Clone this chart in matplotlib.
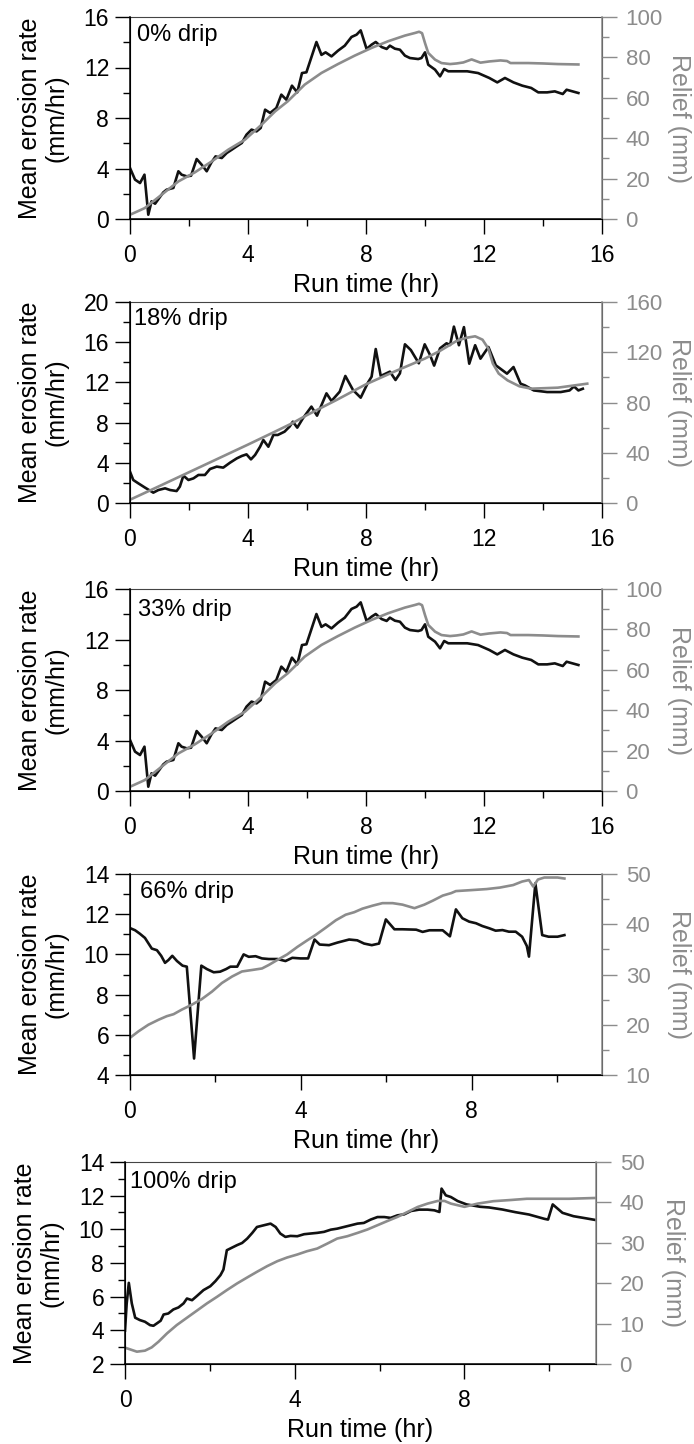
import numpy as np
import matplotlib
matplotlib.use("Agg")
import matplotlib.pyplot as plt

plt.rcParams["font.family"] = ["Liberation Sans", "DejaVu Sans"]

GRAY = "#8c8c8c"

# ---- data ----
# 0% drip
t_0 = [0, 0.17, 0.34, 0.49, 0.62, 0.73, 0.85, 1.13, 1.24, 1.47, 1.64, 1.75, 1.92, 2.07, 2.26, 2.43,
       2.6, 2.75, 2.9, 3.11, 3.28, 3.45, 3.62, 3.79, 3.95, 4.12, 4.29, 4.43, 4.58, 4.75, 4.96, 5.13,
       5.3, 5.49, 5.67, 5.83, 5.98, 6.32, 6.49, 6.63, 6.83, 7.05, 7.28, 7.51, 7.68, 7.82, 8.02, 8.19,
       8.33, 8.53, 8.7, 8.81, 8.98, 9.15, 9.32, 9.49, 9.77, 9.88, 10.0, 10.11, 10.34, 10.51, 10.65,
       10.79, 11.07, 11.43, 11.8, 12.18, 12.45, 12.71, 13.0, 13.3, 13.6, 13.84, 14.14, 14.4, 14.67,
       14.8, 15.2]
erosion_0 = [4.04, 3.12, 2.85, 3.51, 0.34, 1.4, 1.21, 2.11, 2.32, 2.46, 3.78, 3.51, 3.38, 3.43, 4.75,
             4.3, 3.78, 4.44, 4.96, 4.83, 5.23, 5.49, 5.76, 6.02, 6.68, 7.08, 6.94, 7.21, 8.66, 8.4,
             8.79, 9.85, 9.45, 10.56, 10.03, 11.56, 11.62, 14.02, 13.0, 13.2, 12.88, 13.33, 13.73,
             14.42, 14.6, 14.94, 13.47, 13.81, 14.02, 13.62, 13.47, 13.73, 13.49, 13.41, 12.94, 12.75,
             12.67, 12.75, 13.2, 12.22, 11.83, 11.3, 11.88, 11.7, 11.7, 11.7, 11.56, 11.17, 10.82,
             11.17, 10.82, 10.56, 10.38, 10.03, 10.03, 10.11, 9.9, 10.24, 9.98]
tr_0 = [0, 0.5, 1.07, 1.64, 2.2, 2.77, 3.33, 3.9, 4.46, 4.92, 5.35, 5.92, 6.49, 7.05, 7.62, 8.19, 8.75,
        9.32, 9.66, 9.8, 9.9, 10.0, 10.11, 10.34, 10.56, 10.85, 11.07, 11.3, 11.58, 11.88, 12.18,
        12.56, 12.78, 12.9, 13.5, 14.0, 14.5, 15.2]
relief_0 = [2.1, 5.4, 12.0, 18.6, 23.1, 28.5, 34.3, 39.3, 46.7, 53.3, 58.3, 66.5, 72.3, 76.7, 80.9,
            84.7, 88.0, 90.8, 92.1, 92.7, 92.0, 87.1, 82.2, 78.9, 77.2, 76.7, 77.0, 77.5, 79.0, 77.4,
            78.0, 78.5, 78.2, 77.2, 77.2, 77.0, 76.7, 76.5]

# 18% drip
t_18 = [0, 0.11, 0.28, 0.51, 0.79, 0.96, 1.19, 1.36, 1.58, 1.69, 1.81, 1.98, 2.15, 2.32, 2.54, 2.71,
        2.94, 3.16, 3.39, 3.62, 3.79, 3.95, 4.1, 4.24, 4.41, 4.52, 4.69, 4.86, 5.01, 5.24, 5.41, 5.52,
        5.67, 5.86, 6.15, 6.34, 6.66, 6.83, 7.11, 7.3, 7.56, 7.82, 8.07, 8.19, 8.33, 8.5, 8.81, 9.0,
        9.15, 9.32, 9.52, 9.79, 9.99, 10.17, 10.31, 10.51, 10.73, 10.85, 10.98, 11.15, 11.32, 11.5,
        11.7, 11.88, 12.15, 12.4, 12.63, 12.78, 13.0, 13.24, 13.39, 13.69, 14.14, 14.6, 14.9, 15.05,
        15.2, 15.35]
erosion_18 = [3.12, 2.29, 1.96, 1.53, 1.03, 1.29, 1.46, 1.29, 1.19, 1.63, 2.72, 2.29, 2.45, 2.79, 2.79,
              3.38, 3.62, 3.52, 4.01, 4.44, 4.68, 4.84, 4.34, 4.78, 5.6, 6.27, 5.6, 6.77, 6.77, 7.1,
              7.6, 8.09, 7.5, 8.42, 9.59, 8.69, 10.91, 10.15, 11.08, 12.64, 11.24, 10.48, 12.0, 12.57,
              15.32, 12.64, 13.07, 12.24, 12.9, 15.79, 15.22, 13.9, 15.79, 14.73, 13.67, 15.39, 15.89,
              15.72, 17.55, 15.7, 17.5, 13.86, 15.7, 14.36, 15.52, 13.7, 13.2, 12.87, 13.53, 11.87,
              11.7, 11.2, 11.04, 11.04, 11.2, 11.6, 11.2, 11.37]
tr_18 = [0, 1, 2, 3, 4, 4.79, 5.5, 6, 7, 8, 9, 10, 10.5, 11.07, 11.4, 11.7, 11.95, 12.15, 12.3, 12.5,
         12.8, 13.2, 13.6, 14.5, 15.5]
relief_18 = [2.6, 13.5, 24.5, 35.5, 46.5, 55.4, 63.5, 70, 82, 94.5, 105, 115, 121, 129, 131.5, 132.7,
             130, 122.8, 111, 103, 97.6, 92.9, 91, 91.8, 95]

# 33% drip (same series as 0% drip in the figure)
t_33, erosion_33 = t_0, erosion_0
tr_33, relief_33 = tr_0, relief_0

# 66% drip
t_66 = [0, 0.12, 0.23, 0.35, 0.51, 0.63, 0.73, 0.82, 0.9, 0.99, 1.1, 1.23, 1.33, 1.5, 1.67, 1.8, 1.96,
        2.11, 2.25, 2.35, 2.51, 2.66, 2.78, 2.94, 3.09, 3.25, 3.45, 3.64, 3.8, 3.99, 4.17, 4.32, 4.44,
        4.66, 4.86, 5.13, 5.32, 5.48, 5.66, 5.83, 5.99, 6.19, 6.38, 6.7, 6.85, 7.01, 7.32, 7.49, 7.63,
        7.78, 7.94, 8.1, 8.25, 8.41, 8.56, 8.72, 8.87, 9.03, 9.18, 9.29, 9.34, 9.49, 9.65, 9.8, 10.01,
        10.17]
erosion_66 = [11.31, 11.2, 11.03, 10.82, 10.29, 10.21, 9.93, 9.58, 9.72, 9.93, 9.67, 9.44, 9.39, 4.82,
              9.44, 9.27, 9.11, 9.14, 9.27, 9.39, 9.39, 10.0, 9.88, 9.91, 9.8, 9.77, 9.77, 9.67, 9.83,
              9.8, 9.8, 10.74, 10.49, 10.46, 10.59, 10.74, 10.7, 10.54, 10.46, 10.54, 11.74, 11.25,
              11.25, 11.23, 11.12, 11.2, 11.2, 10.9, 12.24, 11.8, 11.63, 11.55, 11.41, 11.3, 11.18,
              11.21, 11.13, 11.13, 10.88, 10.42, 9.89, 13.54, 10.96, 10.88, 10.88, 10.96]
tr_66 = [0, 0.2, 0.43, 0.67, 0.86, 1.02, 1.21, 1.45, 1.68, 1.92, 2.15, 2.39, 2.62, 2.86, 3.09, 3.25,
         3.45, 3.68, 3.92, 4.15, 4.35, 4.58, 4.82, 5.05, 5.25, 5.44, 5.68, 5.91, 6.15, 6.38, 6.66, 6.89,
         7.09, 7.32, 7.52, 7.63, 8.0, 8.35, 8.66, 8.97, 9.18, 9.34, 9.44, 9.55, 9.7, 10.01, 10.17]
relief_66 = [17.4, 18.7, 20.0, 21.0, 21.7, 22.1, 23.0, 24.0, 25.1, 26.6, 28.3, 29.6, 30.6, 30.9, 31.2,
             31.9, 32.9, 34.0, 35.5, 36.8, 37.9, 39.3, 40.8, 41.9, 42.4, 43.1, 43.7, 44.2, 44.2, 43.9,
             43.2, 43.9, 44.7, 45.7, 46.2, 46.6, 46.8, 47.0, 47.3, 47.8, 48.5, 48.8, 47.5, 48.9, 49.3,
             49.3, 49.1]

# 100% drip
t_100 = [0, 0.04, 0.09, 0.16, 0.24, 0.35, 0.47, 0.59, 0.67, 0.75, 0.84, 0.91, 1.02, 1.14, 1.26, 1.38,
         1.46, 1.58, 1.69, 1.85, 2.01, 2.13, 2.25, 2.32, 2.4, 2.48, 2.64, 2.76, 2.88, 3.0, 3.11, 3.27,
         3.43, 3.55, 3.66, 3.78, 3.9, 4.06, 4.22, 4.37, 4.53, 4.69, 4.85, 5.0, 5.16, 5.32, 5.48, 5.63,
         5.79, 5.95, 6.11, 6.26, 6.42, 6.58, 6.74, 6.93, 7.13, 7.29, 7.41, 7.46, 7.56, 7.68, 7.84, 8.05,
         8.37, 8.58, 8.89, 9.2, 9.52, 9.89, 9.97, 10.08, 10.31, 10.57, 10.85, 11.1]
erosion_100 = [3.98, 5.6, 6.82, 5.6, 4.75, 4.61, 4.51, 4.31, 4.27, 4.41, 4.57, 4.94, 5.0, 5.24, 5.36,
               5.6, 5.89, 5.79, 6.03, 6.39, 6.62, 6.92, 7.28, 7.61, 8.76, 8.86, 9.06, 9.19, 9.45, 9.79,
               10.14, 10.24, 10.34, 10.14, 9.75, 9.55, 9.61, 9.59, 9.71, 9.75, 9.79, 9.85, 9.98, 10.04,
               10.14, 10.24, 10.34, 10.38, 10.58, 10.73, 10.73, 10.68, 10.83, 10.89, 11.09, 11.17,
               11.17, 11.13, 11.03, 12.42, 12.02, 11.92, 11.68, 11.48, 11.34, 11.3, 11.18, 11.02, 10.88,
               10.62, 10.58, 11.48, 10.98, 10.78, 10.66, 10.55]
tr_100 = [0, 0.12, 0.28, 0.47, 0.63, 0.79, 0.99, 1.22, 1.46, 1.69, 1.93, 2.17, 2.4, 2.64, 2.88, 3.11,
          3.35, 3.59, 3.82, 4.06, 4.29, 4.53, 4.77, 5.0, 5.24, 5.48, 5.71, 5.95, 6.19, 6.42, 6.66, 6.9,
          7.13, 7.37, 7.53, 7.68, 8.0, 8.31, 8.68, 9.1, 9.47, 9.84, 10.47, 11.1]
relief_100 = [4.04, 3.62, 3.05, 3.3, 4.12, 5.52, 7.58, 9.64, 11.45, 13.18, 14.99, 16.64, 18.29, 19.93,
              21.42, 22.82, 24.22, 25.45, 26.36, 27.1, 27.92, 28.58, 29.82, 31.05, 31.63, 32.45, 33.28,
              34.35, 35.42, 36.41, 37.64, 38.88, 39.7, 40.36, 40.36, 39.7, 38.9, 39.7, 40.3, 40.6, 40.9,
              40.9, 40.9, 41.1]

labels = ["0% drip", "18% drip", "33% drip", "66% drip", "100% drip"]

W, H = 694, 1444
fig = plt.figure(figsize=(W / 100, H / 100), dpi=100)


def panel(box, t, e, tr, r, label, xlim, xmaj, xmin, ylim, ymaj, ymin, rlim, rmaj, rmin, txt_off):
    left, right, top, bottom = box
    ax = fig.add_axes([left / W, 1 - bottom / H, (right - left) / W, (bottom - top) / H])
    ax.plot(t, e, color="#111111", lw=1.9)
    ax.set_xlim(*xlim)
    ax.set_ylim(*ylim)
    ax.set_xticks(xmaj)
    ax.set_xticks(xmin, minor=True)
    ax.set_yticks(ymaj)
    ax.set_yticks(ymin, minor=True)
    ax.tick_params(which="major", length=11, width=1.0, labelsize=16.5, direction="out")
    ax.tick_params(which="minor", length=5, width=1.0, direction="out")
    ax.tick_params(axis="x", pad=7)
    ax.tick_params(axis="y", pad=4)
    ax.set_xlabel("Run time (hr)", fontsize=18, labelpad=4)
    ax.set_ylabel("Mean erosion rate\n(mm/hr)", fontsize=18, linespacing=1.12)
    ax.yaxis.set_label_coords(-0.13, 0.5)
    for s in ["left", "bottom"]:
        ax.spines[s].set_linewidth(1.1)
    ax.spines["top"].set_color("#444444")

    ax2 = ax.twinx()
    ax2.plot(tr, r, color=GRAY, lw=1.9)
    ax2.set_ylim(*rlim)
    ax2.set_yticks(rmaj)
    ax2.set_yticks(rmin, minor=True)
    ax2.tick_params(which="major", length=11, width=1.0, labelsize=16, colors=GRAY, pad=6)
    ax2.tick_params(which="minor", length=5, width=1.0, colors=GRAY)
    ax2.spines["right"].set_color(GRAY)
    ax2.spines["right"].set_linewidth(1.1)
    ax2.spines["top"].set_visible(False)
    ax2.set_ylabel("Relief (mm)", fontsize=18, color=GRAY, rotation=270, va="bottom")
    ax2.yaxis.set_label_coords(1.137, 0.5)

    ax.annotate(label, xy=(0, 1), xycoords="axes fraction", xytext=txt_off,
                textcoords="offset pixels", fontsize=17, ha="left", va="top")
    return ax


panel((130, 602, 17, 219), t_0, erosion_0, tr_0, relief_0, labels[0],
      (0, 16), [0, 4, 8, 12, 16], [2, 6, 10, 14], (0, 16), [0, 4, 8, 12, 16], [2, 6, 10, 14],
      (0, 100), [0, 20, 40, 60, 80, 100], [10, 30, 50, 70, 90], (7, -7))
panel((130, 602, 302, 503), t_18, erosion_18, tr_18, relief_18, labels[1],
      (0, 16), [0, 4, 8, 12, 16], [2, 6, 10, 14], (0, 20), [0, 4, 8, 12, 16, 20], [2, 6, 10, 14, 18],
      (0, 160), [0, 40, 80, 120, 160], [20, 60, 100, 140], (4, -6))
panel((130, 602, 589, 791), t_33, erosion_33, tr_33, relief_33, labels[2],
      (0, 16), [0, 4, 8, 12, 16], [2, 6, 10, 14], (0, 16), [0, 4, 8, 12, 16], [2, 6, 10, 14],
      (0, 100), [0, 20, 40, 60, 80, 100], [10, 30, 50, 70, 90], (8, -10))
panel((130, 602, 874, 1075), t_66, erosion_66, tr_66, relief_66, labels[3],
      (0, 11.05), [0, 4, 8], [2, 6, 10], (4, 14), [4, 6, 8, 10, 12, 14], [5, 7, 9, 11, 13],
      (10, 50), [10, 20, 30, 40, 50], [15, 25, 35, 45], (10, -7))
panel((125, 596, 1162, 1364), t_100, erosion_100, tr_100, relief_100, labels[4],
      (0, 11.1), [0, 4, 8], [2, 6, 10], (2, 14), [2, 4, 6, 8, 10, 12, 14], [3, 5, 7, 9, 11, 13],
      (0, 50), [0, 10, 20, 30, 40, 50], [], (5, -9))

fig.savefig("out.png", dpi=100)
